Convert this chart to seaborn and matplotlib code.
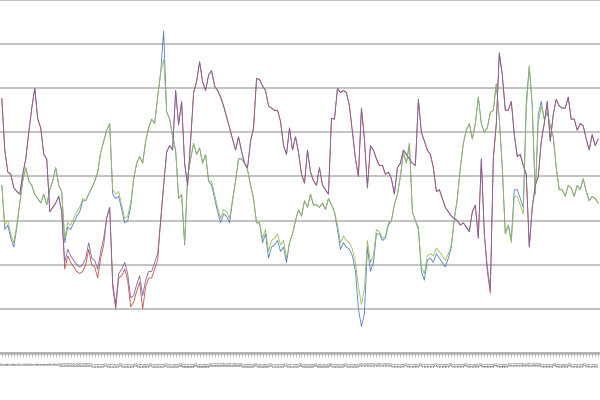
import matplotlib
matplotlib.use("Agg")
import matplotlib.pyplot as plt
import seaborn as sns
import pandas as pd

# category labels on the x axis (unreadable in the reference, roughly 3-digit numbers)
x_labels = [str(n) for n in range(80, 280)]

# values (gridlines every 10 units)
green = [38, 29, 30, 27, 25, 29, 34, 39, 42, 39, 38, 36, 35, 34, 36, 33.6, 37, 39, 42, 38,
         36.5, 26, 29.5, 29, 30.6, 32, 33, 35, 34.5, 36, 37.4, 38.9, 41, 45.5, 48, 50.5, 52, 37, 36, 36.6,
         33.6, 30.5, 31, 34, 39.5, 43, 44.5, 43, 48, 51, 53, 52, 58, 63.5, 66.5, 54.7, 53, 49, 46, 35,
         36, 25, 40, 44, 47.5, 45, 46.5, 43, 45, 39, 38.9, 36, 33, 30.5, 32.5, 32, 30.5, 35, 39, 44,
         44, 43, 41.5, 38, 35, 29.5, 29.5, 26, 28, 23, 25.5, 26, 27, 24.5, 25.5, 21.5, 25, 27, 30, 32.5,
         31, 34.5, 33, 36, 33.5, 33.6, 33, 34, 32.5, 35, 33.6, 32, 29, 25, 26.5, 25.5, 25, 23.5, 20.5, 15,
         11, 14.5, 25.5, 20.5, 22, 28, 27.5, 26, 26.5, 29.5, 30, 33.6, 35.9, 40, 45.5, 43, 47.5, 32, 30, 28.5,
         19.5, 18, 22, 22.5, 22, 23.8, 23, 22, 21, 22.5, 24.5, 30.5, 35, 42, 47.5, 50.5, 52, 48.5, 52, 58,
         52, 50, 51, 54.5, 55, 61, 53, 42, 27, 29, 25, 35.5, 35.5, 33.5, 31.5, 55, 65, 56, 36, 52,
         56, 53, 54.5, 51.5, 49, 42, 37, 37, 35.5, 38, 37.4, 35.5, 38, 37, 39.5, 36.6, 34.5, 35.5, 35, 34]

blue = [38, 28, 29, 26, 24, 28.5, 34, 39, 42, 39, 38, 36, 35, 34, 36, 33.6, 37, 39, 42, 38,
        36.5, 25, 28.5, 28, 29.5, 31, 32, 34.5, 34.5, 36, 37.4, 38.9, 41, 45.5, 48, 50.5, 52, 36, 35, 35.5,
        32.5, 29.5, 30, 33, 39.5, 43, 44.5, 43, 48, 51, 53, 52, 58, 63.5, 73, 54.7, 53, 49, 46, 35,
        36, 24.5, 40, 44, 47.5, 45, 46.5, 43, 45, 39, 38, 35, 32, 29.5, 31.5, 31, 29.5, 34.5, 39, 44,
        44, 43, 41.5, 38, 35, 29.5, 29.5, 25, 27, 21.5, 24, 24.5, 25.5, 23, 24, 20.5, 25, 27, 30, 32.5,
        31, 34.5, 33, 36, 33.5, 33.6, 33, 34, 32.5, 35, 33.6, 32, 28, 23.5, 25, 24, 23.5, 22, 18.5, 10,
        6, 9, 24, 18.5, 20.5, 27, 27, 25.5, 26, 29, 30, 33.6, 35.9, 40, 45.5, 43, 47.5, 32, 30, 28,
        18.5, 16.5, 21, 21.5, 20.5, 22.5, 21.5, 20.5, 19.5, 21.5, 24, 30.5, 35, 42, 47.5, 50.5, 52, 48.5, 52, 58,
        52, 50, 51, 54.5, 55, 61, 53, 42, 27, 29, 25.5, 37, 37, 35, 33, 57, 65, 56, 36, 54,
        57, 53, 54.5, 51.5, 49, 42, 37, 37, 35.5, 38, 37.4, 35.5, 38, 37, 39.5, 36.6, 34.5, 35.5, 35, 34]

purple = [57.7, 46, 41, 40.5, 37.5, 36.6, 36, 40.5, 44, 50, 55.5, 60, 53, 51, 45, 44, 32, 33, 34, 35.5,
          32, 20.5, 23.5, 22, 21, 20, 19.5, 20, 21.5, 25, 21.5, 21, 19, 23, 26, 30.6, 33, 16, 11, 18,
          19, 20.5, 18, 12.5, 13, 15.5, 17.5, 13, 16.5, 18.5, 18.5, 20.5, 22.5, 30, 38, 45.5, 47, 46, 59.5, 51.7,
          57, 43, 38, 48, 59, 61.5, 66, 61.5, 59.5, 63, 64, 60.5, 59.5, 58, 56, 53.5, 51, 48.5, 46, 49,
          45.7, 43, 42, 48, 51, 62.2, 62, 60.5, 59.5, 56, 55.5, 55, 55, 52.5, 47, 45, 51, 46, 49, 45.5,
          40.5, 38.5, 46, 41, 39, 38, 42, 38, 37, 36, 53.2, 53, 60, 59, 59.5, 59, 56, 50, 44, 40,
          55.5, 48.5, 37.4, 47, 46, 44, 42.5, 42.5, 40.5, 41, 39.5, 36, 42, 43, 46, 45, 44, 43, 42.5, 57.5,
          50, 48, 46, 45, 42, 36.6, 37, 35, 33, 32, 31, 30.5, 30, 29, 29.5, 28.5, 27.5, 32, 33.5, 26,
          44, 27, 19.5, 14.5, 44, 52, 68, 63, 55, 55, 57, 49.5, 44.5, 45, 42.5, 40.5, 24, 33, 38, 40,
          48, 52, 57, 48, 54, 57.5, 56, 55.5, 55.5, 58, 53, 53, 50.5, 52, 51.5, 48.5, 46, 49.5, 47, 48.5]

red = [57.7, 46, 41, 40.5, 37.5, 36.6, 36, 40.5, 44, 50, 55.5, 60, 53, 51, 45, 44, 32, 33, 34, 35.5,
       32, 19, 22, 20.5, 19.5, 18.5, 18, 18.5, 20, 23.5, 20, 19.5, 17, 21.5, 24.5, 30.6, 33, 15, 10, 17,
       17.5, 19, 16.5, 10.5, 11.5, 14, 16, 10, 15, 17, 17, 19, 21, 30, 38, 45.5, 47, 46, 59.5, 51.7,
       57, 43, 38, 48, 59, 61.5, 66, 61.5, 59.5, 63, 64, 60.5, 59.5, 58, 56, 53.5, 51, 48.5, 46, 49,
       45.7, 43, 42, 48, 51, 62.2, 62, 60.5, 59.5, 56, 55.5, 55, 55, 52.5, 47, 45, 51, 46, 49, 45.5,
       40.5, 38.5, 46, 41, 39, 38, 42, 38, 37, 36, 53.2, 53, 60, 59, 59.5, 59, 56, 50, 44, 40,
       55.5, 48.5, 37.4, 47, 46, 44, 42.5, 42.5, 40.5, 41, 39.5, 36, 42, 43, 46, 45, 44, 43, 42.5, 57.5,
       50, 48, 46, 45, 42, 36.6, 37, 35, 33, 32, 31, 30.5, 30, 29, 29.5, 28.5, 27.5, 32, 33.5, 26,
       44, 27, 18.5, 13.5, 44, 52, 68, 63, 55, 55, 57, 49.5, 44.5, 45, 42.5, 40.5, 24, 33, 38, 40,
       48, 52, 57, 48, 54, 57.5, 56, 55.5, 55.5, 58, 53, 53, 50.5, 52, 51.5, 48.5, 46, 49.5, 47, 48.5]

series_names = ["Series1", "Series2", "Series3", "Series4"]
colors = ["#4F81BD", "#C0504D", "#9BBB59", "#8064A2"]

df = pd.DataFrame({"idx": range(len(green)),
                   "Series1": blue, "Series2": red, "Series3": green, "Series4": purple})
long_df = df.melt(id_vars="idx", var_name="series", value_name="value")

sns.set_style("white")
fig = plt.figure(figsize=(6, 4), dpi=100)
ax = fig.add_axes([0, 47 / 400, 1, 353 / 400])

sns.lineplot(data=long_df, x="idx", y="value", hue="series", hue_order=series_names,
             palette=colors, linewidth=0.6, estimator=None, legend=False, ax=ax)

ax.set_ylim(0, 80)
ax.set_yticks(range(0, 81, 10))
ax.yaxis.grid(True, color="#C4C4C4", linewidth=1.5)
ax.xaxis.grid(False)
ax.set_axisbelow(True)
ax.set_xlim(-0.6, len(green) - 0.4)

ax.set_xticks(range(len(green)))
ax.set_xticklabels(x_labels, rotation=90, fontsize=2.0, color="#404040")
ax.tick_params(axis="x", length=3, width=0.5, color="#A6A6A6", pad=3, bottom=True)
ax.tick_params(axis="y", left=False, labelleft=False)

for side in ["left", "right", "top"]:
    ax.spines[side].set_visible(False)
ax.spines["bottom"].set_color("#B0B0B0")
ax.spines["bottom"].set_linewidth(1.8)

ax.set_xlabel("")
ax.set_ylabel("")

fig.savefig("out.png", dpi=100)
